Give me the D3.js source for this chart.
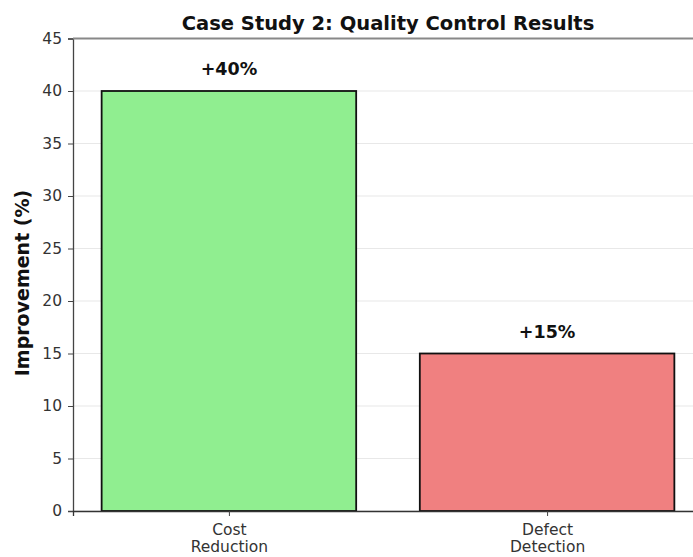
<html>
<head>
  <meta charset="UTF-8">
  <title>Case Study 2</title>
  <script src="https://d3js.org/d3.v7.min.js"></script>
  <style>
    body { margin: 0; background: #fff; }
    text { font-family: "DejaVu Sans", sans-serif; }
  </style>
</head>
<body>
<svg id="svg1" width="693" height="557"></svg>
<script>
  // data
  const categories = [["Cost", "Reduction"], ["Defect", "Detection"]];
  const values = [40, 15];
  const labels = ["+40%", "+15%"];
  const colors = ["#90EE90", "#F08080"];
  const yTicks = [0, 5, 10, 15, 20, 25, 30, 35, 40, 45];

  const svg1 = d3.select("#svg1");
  const margin = { top: 38.5, left: 73, bottom: 511 };
  const plotRight = 703;

  const xScale = d3.scaleLinear([-0.49, 1.49], [margin.left, plotRight]);
  const yScale = d3.scaleLinear([0, 45], [margin.bottom, margin.top]);
  const barW = xScale(0.4) - xScale(0);

  // gridlines
  svg1.append("g").selectAll("line").data(yTicks).join("line")
      .attr("x1", margin.left).attr("x2", plotRight)
      .attr("y1", d => yScale(d)).attr("y2", d => yScale(d))
      .attr("stroke", "#e8e8e8").attr("stroke-width", 1.2);

  // bars
  svg1.append("g").selectAll("rect").data(values).join("rect")
      .attr("x", (d, i) => xScale(i) - barW)
      .attr("y", d => yScale(d))
      .attr("width", barW * 2)
      .attr("height", d => yScale(0) - yScale(d))
      .attr("fill", (d, i) => colors[i])
      .attr("stroke", "#111").attr("stroke-width", 1.8);

  // value labels
  svg1.append("g").selectAll("text").data(values).join("text")
      .attr("x", (d, i) => xScale(i))
      .attr("y", d => yScale(d) - 16)
      .attr("text-anchor", "middle")
      .attr("font-size", "17.5px").attr("font-weight", "bold").attr("fill", "#111")
      .text((d, i) => labels[i]);

  // y axis
  const leftAxis = d3.axisLeft(yScale).tickValues(yTicks).tickSize(5).tickPadding(6);
  const gy = svg1.append("g")
      .attr("transform", `translate(${margin.left},0)`)
      .call(leftAxis);
  gy.select(".domain").attr("stroke", "#444").attr("stroke-width", 1.3);
  gy.selectAll(".tick line").attr("stroke", "#444");
  gy.selectAll(".tick text").attr("font-size", "15.5px").attr("fill", "#333")
      .attr("font-family", "DejaVu Sans, sans-serif");

  // x axis
  const bottomAxis = d3.axisBottom(xScale).tickValues([0, 1]).tickSize(5).tickFormat("");
  const gx = svg1.append("g")
      .attr("transform", `translate(0,${margin.bottom})`)
      .call(bottomAxis);
  gx.select(".domain").attr("stroke", "#333").attr("stroke-width", 1.3);
  gx.selectAll(".tick line").attr("stroke", "#444");
  gx.selectAll(".tick").append("text")
      .attr("text-anchor", "middle")
      .attr("font-size", "15.5px").attr("fill", "#333")
      .selectAll("tspan").data((d, i) => categories[i]).join("tspan")
      .attr("x", 0)
      .attr("y", (d, j) => 24 + j * 17)
      .text(d => d);

  // top spine
  svg1.append("line")
      .attr("x1", margin.left).attr("x2", plotRight)
      .attr("y1", margin.top).attr("y2", margin.top)
      .attr("stroke", "#888").attr("stroke-width", 1.8);

  // y label
  svg1.append("text")
      .attr("transform", `translate(29,283) rotate(-90)`)
      .attr("text-anchor", "middle")
      .attr("font-size", "19px").attr("font-weight", "bold").attr("fill", "#111")
      .text("Improvement (%)");

  // title
  svg1.append("text")
      .attr("x", 388)
      .attr("y", 30)
      .attr("text-anchor", "middle")
      .attr("font-size", "19.5px").attr("font-weight", "bold").attr("fill", "#111")
      .text("Case Study 2: Quality Control Results");
</script>
</body>
</html>
